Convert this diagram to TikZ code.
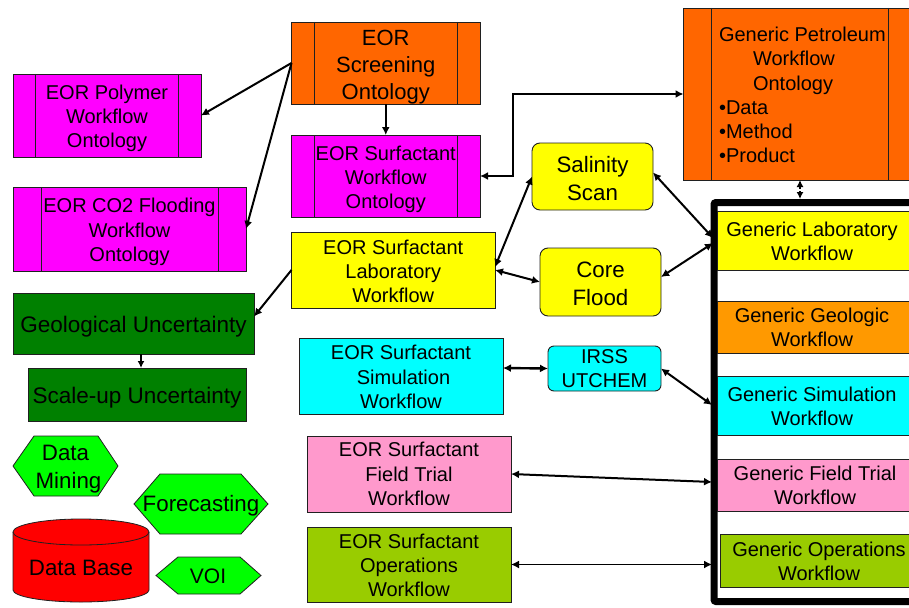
\documentclass[tikz,border=0pt]{standalone}
\usepackage{fontspec}
\setmainfont{Liberation Sans}
\usetikzlibrary{arrows.meta}
\definecolor{cOrange}{HTML}{FF6600}
\definecolor{cAmber}{HTML}{FF9900}
\definecolor{cMag}{HTML}{FF00FF}
\definecolor{cYel}{HTML}{FFFF00}
\definecolor{cCyan}{HTML}{00FFFF}
\definecolor{cPink}{HTML}{FF99CC}
\definecolor{cOlive}{HTML}{99CC00}
\definecolor{cDark}{HTML}{008000}
\definecolor{cLime}{HTML}{00FF00}
\definecolor{cEdge}{HTML}{202020}
\tikzset{
  x=1pt,y=-1pt,
  every node/.style={outer sep=0pt,inner sep=0pt,align=center,font=\fontsize{20}{24.3}\selectfont,text=black},
  box/.style n args={4}{draw=cEdge,line width=0.9pt,fill=#1,minimum width=#2,minimum height=#3,#4},
  sidebars/.style={path picture={\draw[cEdge,line width=0.9pt]
     ([xshift=#1]path picture bounding box.north west) -- ([xshift=#1]path picture bounding box.south west)
     ([xshift=-#1]path picture bounding box.north east) -- ([xshift=-#1]path picture bounding box.south east);}},
  hexa/.style={fill=cLime,draw=cEdge,line width=0.8pt,line join=miter},
  tip/.tip={Latex[length=8pt,width=8pt]},
  small tip/.tip={Latex[length=7pt,width=7pt]},
  two/.style={tip-tip,line width=2pt},
  one/.style={-tip,line width=2pt},
  big/.style={font=\fontsize{22.3}{27.8}\selectfont},
}
\begin{document}
\begin{tikzpicture}
\clip (0,0) rectangle (909,607);
\fill[white] (0,0) rectangle (909,607);

% frame
\node[draw=black,line width=7pt,rounded corners=2pt,minimum width=220,minimum height=399,outer sep=0pt] (frame) at (824,402) {};
\coordinate (fLabA) at (713,238);
\coordinate (fLabB) at (713,243);
\coordinate (fSim) at (712,405);
\coordinate (fField) at (712,482);
\coordinate (fOps) at (712,564.5);
\coordinate (fTop) at (800,199);

% ontology boxes
\node[box={cOrange}{188.5}{82}{sidebars=22.5}] (screen) at (385.75,63) {};
\node[font=\fontsize{22}{27}\selectfont] (screent) at (385.75,67) {EOR\\Screening\\Ontology};
\node[box={cMag}{188}{83}{sidebars=22.5}] (polymer) at (107,115.5) {};
\node (polymert) at (107,118.5) {EOR Polymer\\Workflow\\Ontology};
\node[box={cMag}{233}{84}{sidebars=28}] (cotwo) at (129.5,229) {};
\node (cotwot) at (129.5,232) {EOR CO2 Flooding\\Workflow\\Ontology};
\node[box={cMag}{188.5}{82}{sidebars=22.5}] (surfwf) at (385.75,176) {};
\node (surfwft) at (385.75,179.5) {EOR Surfactant\\Workflow\\Ontology};
\node[box={cOrange}{233}{172}{sidebars=28}] (pet) at (800,94) {};
\node[align=left,anchor=north west] (pettext) at (719,27) {Generic Petroleum\\\hspace*{34pt}Workflow\\\hspace*{34pt}Ontology\\•Data\\•Method\\•Product};

% workflow boxes
\node[box={cYel}{203.5}{76}{}] (lab) at (393.25,270) {};
\node (labt) at (393.25,271.5) {EOR Surfactant\\Laboratory\\Workflow};
\node[box={cDark}{241}{61}{}] (geo) at (133.5,323.5) {};
\node[font=\fontsize{22.5}{27}\selectfont] (geot) at (133.5,327) {Geological Uncertainty};
\node[box={cDark}{218}{53}{}] (scale) at (137,394.5) {};
\node[font=\fontsize{22.5}{27}\selectfont] (scalet) at (137,398) {Scale-up Uncertainty};
\node[box={cCyan}{204}{76}{}] (sim) at (401,376) {};
\node (simt) at (401,377) {EOR Surfactant\\\hspace*{5pt}Simulation\\Workflow};
\node[box={cPink}{204}{76}{}] (field) at (409,474) {EOR Surfactant\\Field Trial\\Workflow};
\node[box={cOlive}{204}{75}{}] (ops) at (409,564.5) {};
\node (opst) at (409,565.5) {EOR Surfactant\\Operations\\Workflow};

% rounded boxes
\node[box={cYel}{121}{67}{rounded corners=8pt}] (sal) at (592.5,176.5) {};
\node[big] (salt) at (592.5,178.5) {Salinity\\Scan};
\node[box={cYel}{121}{68}{rounded corners=8pt}] (core) at (600.5,282) {};
\node[big] (coret) at (600.5,284) {Core\\Flood};
\node[box={cCyan}{113}{45}{rounded corners=6pt}] (irss) at (604.5,368.5) {IRSS\\UTCHEM};

% generic boxes
\node[box={cYel}{196}{59}{}] (glab) at (815,240.5) {};
\node (glabt) at (812,241) {Generic Laboratory\\Workflow};
\node[box={cAmber}{196}{52}{}] (ggeo) at (815,327) {};
\node (ggeot) at (812,327) {Generic Geologic\\Workflow};
\node[box={cCyan}{196}{59}{}] (gsim) at (815,405.5) {};
\node (gsimt) at (812,406) {Generic Simulation\\Workflow};
\node[box={cPink}{196}{52}{}] (gfield) at (815,485) {};
\node (gfieldt) at (815,485) {Generic Field Trial\\Workflow};
\node[box={cOlive}{192}{53}{}] (gops) at (816.5,560.5) {};
\node (gopst) at (819,561) {Generic Operations\\Workflow};

% hexagons and cylinder
\draw[hexa] (13,466) -- (34,436) -- (98,436) -- (118,466) -- (98,496) -- (34,496) -- cycle;
\node[big] (mining) at (68.5,469) {Data\hspace*{6pt}\\Mining};
\draw[hexa] (134,504) -- (160,474) -- (241,474) -- (268,504) -- (241,534) -- (160,534) -- cycle;
\node[big] (fore) at (201,505.5) {Forecasting};
\draw[hexa] (156,575.5) -- (178,557) -- (240,557) -- (261,575.5) -- (240,594) -- (178,594) -- cycle;
\node[font=\fontsize{21}{25}\selectfont] (voi) at (208,576) {VOI};
\draw[fill=red,draw=cEdge,line width=0.8pt] (13,532) .. controls (13,524.8) and (43.5,519) .. (81,519)
  .. controls (118.5,519) and (149,524.8) .. (149,532)
  -- (149,590) .. controls (149,596.6) and (118.5,602) .. (81,602)
  .. controls (43.5,602) and (13,596.6) .. (13,590) -- cycle;
\draw[cEdge,line width=0.8pt] (13,532) .. controls (13,539.2) and (43.5,545) .. (81,545)
  .. controls (118.5,545) and (149,539.2) .. (149,532);
\node[big] (dbase) at (81,568) {Data Base};

% connectors
\draw[one] (screen.west) -- (polymer.east);
\draw[one] (screen.west) -- (cotwo.east);
\draw[one] (screen.south) -- (surfwf.north);
\coordinate (bend) at (513,130);
\draw[one] (bend |- pet.west) |- (surfwf.east);
\draw[one] (bend |- surfwf.east) -- (bend |- pet.west) -- (pet.west);
\draw[one] (lab.west) -- ([yshift=7pt]geo.east);
\draw[-small tip,line width=1.8pt] ([xshift=7.5pt]geo.south) -- ([xshift=4pt]scale.north);
\draw[two] (sal.west) -- ([yshift=3pt]lab.east);
\draw[two] (lab.east) -- (core.west);
\draw[two] ([yshift=4pt]sal.east) -- (fLabA);
\draw[two] ([yshift=5pt]core.east) -- (fLabB);
\draw[two,line width=2.4pt] ([yshift=8pt]sim.east) -- (irss.west);
\draw[two] (irss.east) -- (fSim);
\draw[two] (field.east) -- (fField);
\draw[tip-tip,line width=1.5pt] (ops.east) -- (fOps);
\draw[small tip-small tip,line width=1.8pt,dash pattern=on 3pt off 2pt] (pet.south) -- (fTop);
\end{tikzpicture}
\end{document}
